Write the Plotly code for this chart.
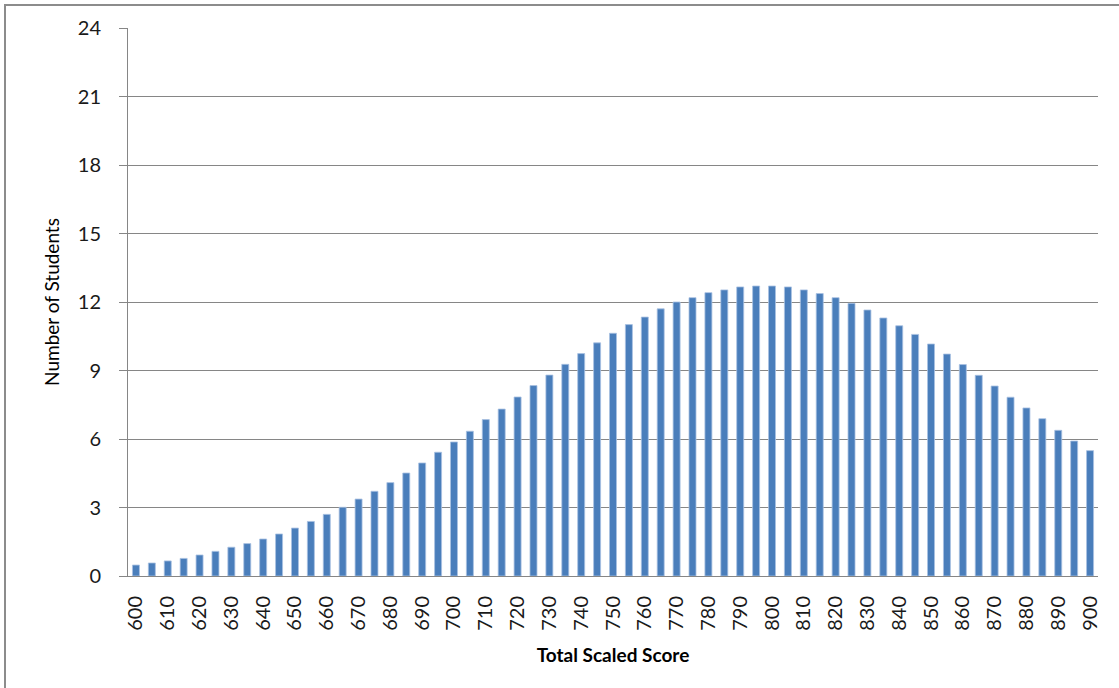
import plotly.graph_objects as go

scores = list(range(600, 905, 5))
students = [
    0.48, 0.57, 0.66, 0.77, 0.92, 1.08, 1.26, 1.42, 1.62, 1.84,
    2.10, 2.39, 2.70, 3.01, 3.37, 3.71, 4.09, 4.51, 4.95, 5.42,
    5.87, 6.34, 6.85, 7.31, 7.84, 8.34, 8.80, 9.27, 9.74, 10.21,
    10.63, 11.01, 11.34, 11.70, 12.00, 12.19, 12.41, 12.53, 12.66, 12.70,
    12.70, 12.66, 12.53, 12.37, 12.19, 11.94, 11.65, 11.30, 10.96, 10.58,
    10.16, 9.72, 9.26, 8.79, 8.32, 7.83, 7.36, 6.89, 6.38, 5.91,
    5.49,
]
x_ticks = list(range(600, 910, 10))
y_ticks = [0, 3, 6, 9, 12, 15, 18, 21, 24]

W, H = 1119, 688
L, R, T, B = 128, 21, 28, 112
pw, ph = W - L - R, H - T - B

fig = go.Figure(
    go.Bar(
        x=scores,
        y=students,
        width=2.2,
        marker=dict(color="#4A7EBB", line=dict(color="#A9C2E2", width=0.8)),
        hoverinfo="x+y",
    )
)

font = "Lato, 'Noto Sans', sans-serif"
fig.update_layout(
    width=W,
    height=H,
    margin=dict(l=L, r=R, t=T, b=B),
    paper_bgcolor="white",
    plot_bgcolor="white",
    showlegend=False,
    font=dict(family=font, color="#000000"),
    xaxis=dict(
        range=[597.5, 902.5],
        tickmode="array",
        tickvals=x_ticks,
        ticktext=[str(v) for v in x_ticks],
        tickangle=-90,
        tickfont=dict(size=20, color="#1a1a1a"),
        ticks="",
        showgrid=False,
        showline=True,
        linecolor="#868686",
        linewidth=1,
        zeroline=False,
        ticklabelstandoff=11,
        title=dict(text="<b>Total Scaled Score</b>", font=dict(size=19), standoff=18),
    ),
    yaxis=dict(
        range=[0, 24],
        tickmode="array",
        tickvals=y_ticks,
        tickfont=dict(size=20, color="#1a1a1a"),
        ticks="outside",
        ticklen=8,
        tickcolor="#868686",
        showgrid=True,
        gridcolor="#868686",
        gridwidth=1,
        showline=True,
        linecolor="#868686",
        linewidth=1,
        zeroline=False,
        ticklabelstandoff=14,
        title=dict(text="Number of Students", font=dict(size=19), standoff=13),
    ),
    shapes=[
        dict(
            type="rect",
            xref="paper",
            yref="paper",
            x0=(5 - L) / pw,
            x1=(W + 20 - L) / pw,
            y0=-(H + 20 - T - ph) / ph,
            y1=(ph + T - 5) / ph,
            line=dict(color="#8C8C8C", width=2),
            fillcolor="rgba(0,0,0,0)",
            layer="below",
        )
    ],
)

fig.write_html(
    "out.html",
    config={"displayModeBar": False},
    post_script="document.body.style.margin='0';document.body.style.overflow='hidden';",
)
